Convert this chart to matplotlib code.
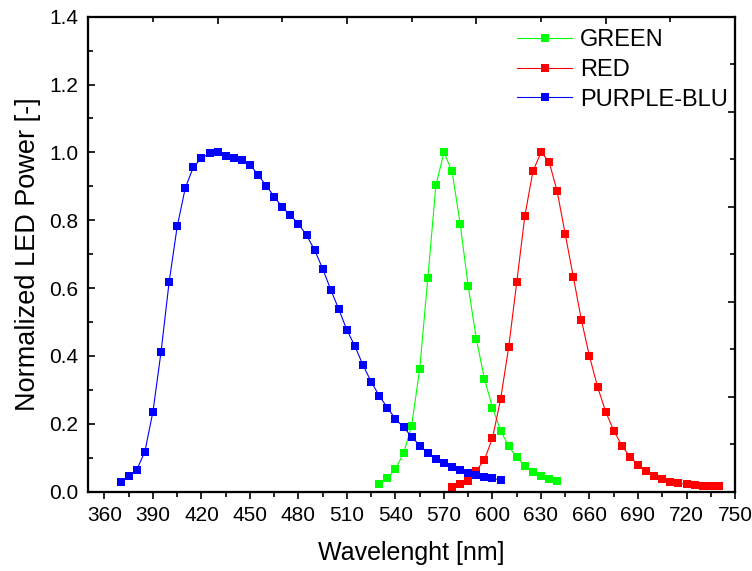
import numpy as np
import matplotlib
matplotlib.use("Agg")
import matplotlib.pyplot as plt
from matplotlib.ticker import MultipleLocator

plt.rcParams['font.family'] = ['Liberation Sans', 'DejaVu Sans']

# ---- data ----
blue_wl = [370, 375, 380, 385, 390, 395, 400, 405, 410, 415, 420, 425, 430, 435, 440,
           445, 450, 455, 460, 465, 470, 475, 480, 485, 490, 495, 500, 505, 510, 515,
           520, 525, 530, 535, 540, 545, 550, 555, 560, 565, 570, 575, 580, 585, 590,
           595, 600, 605]
blue_val = [0.028, 0.045, 0.065, 0.118, 0.236, 0.412, 0.618, 0.782, 0.895, 0.957, 0.983,
            0.997, 1.000, 0.989, 0.983, 0.977, 0.964, 0.934, 0.902, 0.870, 0.838, 0.815,
            0.789, 0.756, 0.712, 0.657, 0.595, 0.537, 0.476, 0.428, 0.372, 0.324, 0.282,
            0.248, 0.214, 0.190, 0.162, 0.136, 0.115, 0.097, 0.085, 0.072, 0.064, 0.054,
            0.049, 0.043, 0.039, 0.035]

green_wl = [530, 535, 540, 545, 550, 555, 560, 565, 570, 575, 580, 585, 590, 595, 600,
            605, 610, 615, 620, 625, 630, 635, 640]
green_val = [0.024, 0.039, 0.067, 0.113, 0.195, 0.362, 0.629, 0.903, 1.000, 0.944, 0.790,
             0.605, 0.450, 0.333, 0.248, 0.180, 0.134, 0.101, 0.077, 0.057, 0.045, 0.037,
             0.031]

red_wl = [575, 580, 585, 590, 595, 600, 605, 610, 615, 620, 625, 630, 635, 640, 645, 650,
          655, 660, 665, 670, 675, 680, 685, 690, 695, 700, 705, 710, 715, 720, 725, 730,
          735, 740]
red_val = [0.015, 0.022, 0.032, 0.062, 0.094, 0.158, 0.272, 0.425, 0.617, 0.812, 0.944,
           1.000, 0.973, 0.885, 0.759, 0.633, 0.506, 0.399, 0.309, 0.236, 0.180, 0.136,
           0.103, 0.080, 0.060, 0.045, 0.036, 0.030, 0.025, 0.022, 0.020, 0.018, 0.017,
           0.016]

series = [
    ("GREEN", green_wl, green_val, "#00ff00"),
    ("RED", red_wl, red_val, "#ff0000"),
    ("PURPLE-BLU", blue_wl, blue_val, "#0000ff"),
]

fig = plt.figure(figsize=(7.52, 5.71), dpi=100)
ax = fig.add_axes([0.1174, 0.1389, 0.86, 0.8319])

for name, x, y, c in series:
    ax.plot(x, y, color=c, lw=0.8, marker="s", ms=6, mew=0, mfc=c, label=name)

ax.set_xlim(350, 750)
ax.set_ylim(0, 1.4)
ax.set_xticks(np.arange(360, 751, 30))
ax.set_xticks(np.arange(375, 751, 30), minor=True)
ax.yaxis.set_minor_locator(MultipleLocator(0.1))
ax.set_yticks(np.arange(0, 1.41, 0.2))
ax.set_yticklabels([f"{v:.1f}" for v in np.arange(0, 1.41, 0.2)])

ax.tick_params(axis='x', which='major', direction='out', length=5, width=1.2, labelsize=15, pad=5)
ax.tick_params(axis='x', which='minor', direction='out', length=3.5, width=1.2)
ax.tick_params(axis='y', which='major', direction='in', length=5, width=1.2, labelsize=15, pad=7)
ax.tick_params(axis='y', which='minor', direction='in', length=3.5, width=1.2)

for s in ax.spines.values():
    s.set_linewidth(1.5)

# top axis ticks
axt = ax.twiny()
axt.set_xlim(350, 750)
axt.set_xticks(np.arange(430, 751, 80))
axt.set_xticks(np.arange(390, 751, 80), minor=True)
axt.tick_params(axis='x', which='major', direction='in', length=5, width=1.2, labeltop=False)
axt.tick_params(axis='x', which='minor', direction='in', length=3.5, width=1.2)
# right axis ticks
axr = ax.twinx()
axr.set_ylim(0, 1.4)
axr.set_yticks(np.arange(0, 1.41, 0.28))
axr.set_yticks(np.arange(0.14, 1.41, 0.28), minor=True)
axr.tick_params(axis='y', which='major', direction='in', length=5, width=1.2, labelright=False)
axr.tick_params(axis='y', which='minor', direction='in', length=3.5, width=1.2)
for a in (axt, axr):
    for s in a.spines.values():
        s.set_linewidth(1.5)

ax.set_xlabel("Wavelenght [nm]", fontsize=18, labelpad=12)
ax.set_ylabel("Normalized LED Power [-]", fontsize=19.5, labelpad=6)

ax.legend(loc="upper right", frameon=False, fontsize=17, handlelength=2.3,
          labelspacing=0.33, handletextpad=0.35, borderaxespad=0.0, borderpad=0.3,
          bbox_to_anchor=(1.0, 0.989))

fig.savefig("out.png", dpi=100)
